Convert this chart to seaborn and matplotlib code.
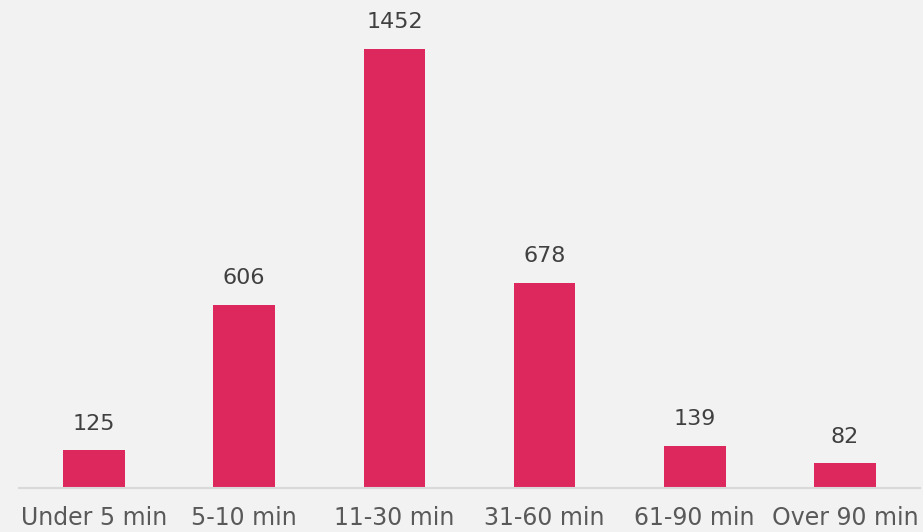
import matplotlib
matplotlib.use("Agg")
import matplotlib.pyplot as plt
import seaborn as sns
import pandas as pd

categories = ["Under 5 min", "5-10 min", "11-30 min", "31-60 min", "61-90 min", "Over 90 min"]
counts = [125, 606, 1452, 678, 139, 82]

BG = "#f2f2f2"
BAR = "#dc285d"
TEXT = "#404040"

sns.set_theme(style="white")
plt.rcParams["font.family"] = ["DejaVu Sans"]

df = pd.DataFrame({"duration": categories, "count": counts})

fig = plt.figure(figsize=(9.23, 5.32), dpi=100, facecolor=BG)
ax = fig.add_axes([19 / 923, 44 / 532, 901 / 923, 488 / 532])
ax.set_facecolor(BG)

sns.barplot(data=df, x="duration", y="count", color=BAR, width=0.41,
            saturation=1, linewidth=0, ax=ax)

ax.set_ylim(0, 1614)
ax.set_xlim(-0.5, len(categories) - 0.5)

for p, v in zip(ax.patches, counts):
    ax.annotate(f"{v}", (p.get_x() + p.get_width() / 2, p.get_height()),
                xytext=(0, 12), textcoords="offset points",
                ha="center", va="bottom", fontsize=16, color=TEXT)

for s in ["top", "right", "left"]:
    ax.spines[s].set_visible(False)
ax.spines["bottom"].set_color("#d9d9d9")
ax.spines["bottom"].set_linewidth(1.5)

ax.set_yticks([])
ax.set_xlabel("")
ax.set_ylabel("")
ax.tick_params(axis="x", length=0, pad=13, labelsize=17, labelcolor="#595959")

fig.savefig("out.png", dpi=100, facecolor=BG)
